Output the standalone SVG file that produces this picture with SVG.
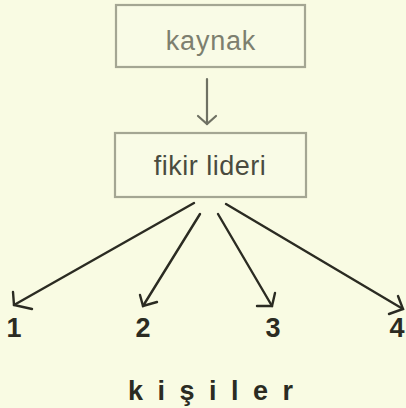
<svg xmlns="http://www.w3.org/2000/svg" width="406" height="408" viewBox="0 0 406 408">
<style>
.box{fill:#f9fbe6;stroke:#a4a693;stroke-width:2.2}
.lbl{font-family:"Liberation Sans",Arial,sans-serif;font-size:27px;text-anchor:middle}
.edge{fill:none;stroke:#2b2b22;stroke-width:2.4;stroke-linecap:round}
.edge1{fill:none;stroke:#6f7163;stroke-width:2.2;stroke-linecap:round}
.num{font-family:"Liberation Sans",Arial,sans-serif;font-size:27px;font-weight:bold;fill:#2b2b22;text-anchor:middle}
</style>
<rect width="406" height="408" fill="#f9fbe3"/>
<g id="kaynak">
<rect class="box" x="116" y="5" width="189" height="62"/>
<text class="lbl" x="211" y="50" fill="#7d7f6f" letter-spacing="0.8">kaynak</text>
</g>
<g id="fikir-lideri">
<rect class="box" x="115" y="133" width="191" height="64"/>
<text class="lbl" x="210" y="175" fill="#4a4b3f" letter-spacing="0.5">fikir lideri</text>
</g>
<g id="connectors">
<path class="edge1" d="M207,79 V124"/>
<path class="edge1" d="M198,116 L207,124 L216,116"/>
<path class="edge" d="M194,203 L14,305"/>
<path class="edge" d="M13,292 L14,305 L32,309"/>
<path class="edge" d="M200,214 L143,306"/>
<path class="edge" d="M140,295 L143,306 L157,302"/>
<path class="edge" d="M218,214 L272,306"/>
<path class="edge" d="M275,293 L272,306 L257,306"/>
<path class="edge" d="M226,204 L403,309"/>
<path class="edge" d="M398,296 L403,309 L389,314"/>
</g>
<g id="kisiler">
<text class="num" x="14" y="337">1</text>
<text class="num" x="143" y="337">2</text>
<text class="num" x="273" y="337">3</text>
<text class="num" x="397" y="337">4</text>
<text x="128" y="400" font-family="'Liberation Sans',Arial,sans-serif" font-size="27" font-weight="bold" fill="#2b2b22" letter-spacing="14.5">kişiler</text>
</g>
</svg>
